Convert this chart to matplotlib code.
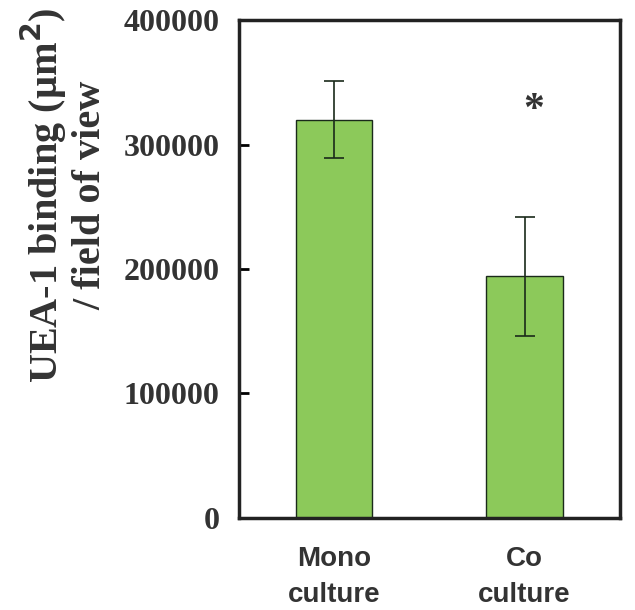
import numpy as np
import matplotlib
matplotlib.use("Agg")
import matplotlib.pyplot as plt

# values
groups = ["Mono\nculture", "Co\nculture"]
means = [320000, 194000]
errs = [31000, 48000]
yticks = [0, 100000, 200000, 300000, 400000]
star_label = "*"
star_y = 327000

fig = plt.figure(figsize=(6.35, 6.1), dpi=100)
ax = fig.add_axes([0.376, 0.151, 0.6, 0.816])

x = np.arange(len(groups))
ax.bar(x, means, width=0.4, color="#8cc95a", edgecolor="#1a2a1a", linewidth=1.0)
ax.errorbar(x, means, yerr=errs, fmt="none", ecolor="#1a2a1a", elinewidth=1.2, capsize=7, capthick=1.2)
ax.text(x[1] + 0.05, star_y, star_label, ha="center", va="center", fontsize=30,
        fontweight="bold", color="#333333", family="Liberation Serif")

ax.set_xlim(-0.5, 1.5)
ax.set_ylim(0, 400000)
ax.set_yticks(yticks)
ax.set_yticklabels([str(v) for v in yticks], family="Liberation Serif", fontweight="bold", fontsize=23, color="#333333")
ax.tick_params(axis="y", direction="in", length=7, width=2, pad=14)
ax.set_xticks(x)
ax.set_xticklabels(groups, family="Liberation Sans", fontweight="bold", fontsize=20, color="#333333", linespacing=1.5)
ax.tick_params(axis="x", length=0, pad=20)
for s in ax.spines.values():
    s.set_linewidth(2.5)
    s.set_color("#222222")

fig.text(64 / 635, 0.68, "UEA-1 binding (\u00b5m$^{\\mathbf{2}}$)\n/ field of view", family="Liberation Serif",
         fontweight="bold", fontsize=29, color="#333333", linespacing=1.1, rotation=90,
         ha="center", va="center", multialignment="center")

fig.savefig("out.png", dpi=100)
